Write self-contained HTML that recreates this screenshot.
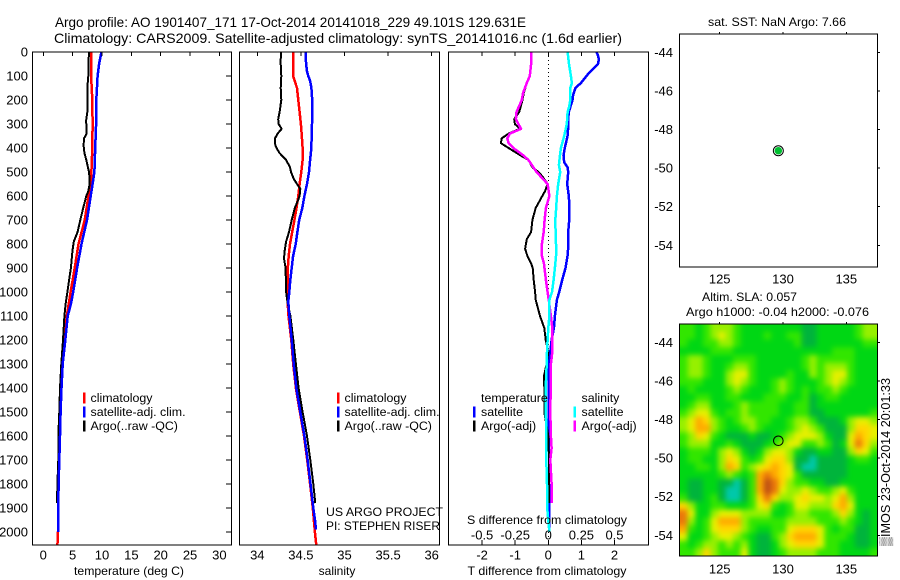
<!DOCTYPE html>
<html>
<head>
<meta charset="utf-8">
<title>Argo profile</title>
<style>
html,body{margin:0;padding:0;background:#fff;}
svg{display:block;}
text{font-family:"Liberation Sans",sans-serif;fill:#000;}
</style>
</head>
<body>
<svg id="chart" xmlns="http://www.w3.org/2000/svg" width="900" height="580" viewBox="0 0 900 580">
<defs>
<clipPath id="clip-t"><rect x="32.5" y="52" width="199" height="493"/></clipPath>
<clipPath id="clip-s"><rect x="239.5" y="52" width="200" height="493"/></clipPath>
<clipPath id="clip-d"><rect x="448.5" y="52" width="200" height="493"/></clipPath>
<clipPath id="clip-m"><rect x="680" y="324" width="197.5" height="232"/></clipPath>
<filter id="heat-blur" x="-10%" y="-10%" width="120%" height="120%" color-interpolation-filters="sRGB"><feGaussianBlur stdDeviation="2.6"/></filter>
</defs>
<g font-size="14">
<text x="55" y="27" textLength="471" lengthAdjust="spacingAndGlyphs">Argo profile: AO 1901407_171 17-Oct-2014 20141018_229 49.101S 129.631E</text>
<text x="54" y="43" textLength="568" lengthAdjust="spacingAndGlyphs">Climatology: CARS2009. Satellite-adjusted climatology: synTS_20141016.nc (1.6d earlier)</text>
</g>
<g id="plots"></g>
<g font-size="12">
<text x="129" y="575" text-anchor="middle" textLength="110" lengthAdjust="spacingAndGlyphs">temperature (deg C)</text>
<text x="337" y="575" text-anchor="middle">salinity</text>
<text x="547" y="575" text-anchor="middle" textLength="159" lengthAdjust="spacingAndGlyphs">T difference from climatology</text>
<text x="547" y="524" text-anchor="middle" textLength="160" lengthAdjust="spacingAndGlyphs">S difference from climatology</text>
<text x="326" y="516" textLength="117" lengthAdjust="spacingAndGlyphs">US ARGO PROJECT</text>
<text x="326" y="530" textLength="114" lengthAdjust="spacingAndGlyphs">PI: STEPHEN RISER</text>
<text x="777" y="26" text-anchor="middle" textLength="138" lengthAdjust="spacingAndGlyphs">sat. SST: NaN Argo: 7.66</text>
<text x="749.5" y="301" text-anchor="middle" textLength="95" lengthAdjust="spacingAndGlyphs">Altim. SLA: 0.057</text>
<text x="777.5" y="316" text-anchor="middle" textLength="183" lengthAdjust="spacingAndGlyphs">Argo h1000: -0.04 h2000: -0.076</text>
<text transform="translate(890,546) rotate(-90)" font-size="12.5" textLength="168" lengthAdjust="spacingAndGlyphs">▒IMOS 23-Oct-2014 20:01:33</text>
</g>
</svg>
<script>
// ---- temperature panel data (deg C vs depth) ----
const climTempDepth = [0,100,200,300,400,500,550,600,700,800,900,1000,1100,1200,1300,1400,1500,1600,1700,1800,1900,2000,2055];
const climTemp = [8.2,8.15,8.35,8.4,8.35,8.2,8.07,7.7,7.05,6.0,5.35,4.65,4.0,3.6,3.25,3.0,2.9,2.7,2.67,2.6,2.55,2.5,2.4];
const satTempDepth = [0,50,100,200,300,400,500,550,600,700,800,900,1000,1050,1100,1200,1300,1400,1500,1600,1700,1800,1900,2000];
const satTemp = [9.9,9.5,9.25,9.03,9.0,8.85,8.7,8.4,8.07,7.45,6.5,5.75,5.1,4.7,4.15,3.75,3.3,3.1,2.95,2.85,2.73,2.6,2.55,2.55];
const argoTempDepth = [0,50,100,150,200,250,290,310,340,360,390,420,450,480,500,550,580,600,650,700,750,790,830,900,950,1000,1050,1100,1200,1300,1400,1500,1600,1700,1800,1880];
const argoTemp = [7.8,7.67,7.67,7.5,7.55,7.5,7.27,7.4,7.4,6.93,6.87,7.0,7.33,7.6,7.8,7.9,7.67,7.33,6.8,6.3,5.85,5.2,4.95,4.7,4.4,4.1,3.8,3.6,3.35,3.07,2.85,2.73,2.55,2.55,2.4,2.33];

// ---- salinity panel data ----
const climSalDepth = [0,100,150,200,250,300,350,400,450,500,550,600,650,700,750,800,850,900,950,1000,1040,1100,1200,1300,1400,1500,1600,1700,1800,1900,2000,2055];
const climSal = [34.41,34.41,34.455,34.47,34.485,34.5,34.51,34.52,34.52,34.505,34.485,34.47,34.45,34.425,34.4,34.375,34.36,34.35,34.348,34.348,34.348,34.358,34.39,34.412,34.443,34.488,34.535,34.572,34.605,34.637,34.66,34.677];
const satSalDepth = [0,50,80,100,120,150,200,250,300,350,400,450,500,550,600,650,700,750,800,850,900,950,1000,1040,1100,1200,1300,1400,1500,1600,1700,1800,1900,1960,1990];
const satSal = [34.554,34.56,34.57,34.585,34.605,34.62,34.63,34.63,34.627,34.623,34.62,34.605,34.593,34.57,34.54,34.516,34.48,34.46,34.44,34.41,34.394,34.378,34.367,34.355,34.367,34.394,34.417,34.447,34.493,34.54,34.577,34.61,34.642,34.665,34.672];
const argoSalDepth = [0,30,50,100,150,200,250,280,300,320,340,360,390,420,450,480,500,530,560,570,600,620,650,700,750,790,830,860,900,1000,1040,1100,1200,1300,1400,1500,1600,1700,1800,1880];
const argoSal = [34.275,34.268,34.268,34.275,34.268,34.275,34.256,34.24,34.244,34.28,34.233,34.203,34.206,34.252,34.33,34.375,34.386,34.42,34.474,34.493,34.485,34.465,34.43,34.394,34.363,34.33,34.313,34.306,34.325,34.33,34.345,34.38,34.413,34.443,34.474,34.52,34.57,34.608,34.642,34.665];

// ---- difference panel data ----
const diffSatTempDepth = [0,10,30,50,90,130,150,180,200,250,280,300,350,400,430,460,480,500,550,600,650,700,750,800,850,900,950,1000,1033,1100,1150,1200,1250,1300,1400,1600,1800,2000];
const diffSatTemp = [1.45,1.49,1.53,1.5,1.21,0.98,0.82,0.75,0.73,0.62,0.6,0.61,0.58,0.5,0.46,0.48,0.58,0.6,0.57,0.62,0.64,0.63,0.6,0.61,0.58,0.52,0.42,0.33,0.26,0.2,0.17,0.1,0.06,0.02,0.01,0.02,0.02,0.02];
const diffArgoTempDepth = [0,50,100,130,170,200,250,280,300,320,340,360,380,400,430,450,480,500,520,550,580,600,650,700,750,780,820,850,880,900,950,1000,1033,1100,1150,1200,1250,1300,1350,1400,1500,1550,1600,1700,1800,1880];
const diffArgoTemp = [-0.52,-0.51,-0.56,-0.65,-0.74,-0.78,-0.88,-1.03,-1.01,-0.86,-1.2,-1.41,-1.43,-1.2,-0.85,-0.6,-0.48,-0.3,-0.17,-0.02,-0.1,-0.18,-0.38,-0.48,-0.52,-0.65,-0.7,-0.63,-0.52,-0.47,-0.44,-0.4,-0.38,-0.25,-0.12,-0.08,0,-0.05,-0.13,-0.12,-0.12,-0.06,0,0.02,0.02,0.02];
const diffSatSalDepth = [0,50,100,130,150,200,230,250,300,350,400,430,470,500,550,600,650,700,750,800,850,900,950,1000,1033,1100,1150,1200,1250,1300,1400,1500,1600,1700,1800,1900,2000];
const diffSatSal = [0.146,0.156,0.171,0.178,0.166,0.166,0.156,0.146,0.14,0.12,0.095,0.088,0.08,0.09,0.075,0.065,0.06,0.053,0.055,0.058,0.058,0.05,0.04,0.028,0.008,0.008,0,-0.005,-0.01,-0.012,-0.02,-0.018,-0.015,-0.015,-0.01,-0.008,0.008];
const diffArgoSalDepth = [0,50,100,130,170,200,250,280,300,320,340,360,380,400,430,450,480,500,550,600,650,700,750,800,850,880,950,1000,1040,1100,1150,1200,1250,1300,1400,1500,1600,1650,1700,1800,1880];
const diffArgoSal = [-0.13,-0.13,-0.14,-0.163,-0.19,-0.2,-0.24,-0.245,-0.226,-0.206,-0.29,-0.31,-0.3,-0.264,-0.19,-0.15,-0.113,-0.088,-0.005,0.008,-0.018,-0.028,-0.035,-0.048,-0.048,-0.033,-0.018,-0.005,0.005,0.02,0.03,0.03,0.03,0.02,0.018,0.015,0.02,0.025,0.015,0.025,0.025];

// ---- tick labels ----
const depthTicks = [0,100,200,300,400,500,600,700,800,900,1000,1100,1200,1300,1400,1500,1600,1700,1800,1900,2000];
const tempTicks = [0,5,10,15,20,25,30];
const salTicks = [34,34.5,35,35.5,36];
const tDiffTicks = [-2,-1,0,1,2];
const sDiffTicks = [-0.5,-0.25,0,0.25,0.5];
const lonTicks = [125,130,135];
const latTicks = [-44,-46,-48,-50,-52,-54];

// ---- float position and altimetry grid ----
const floatLon = [129.631];
const floatLat = [-49.101];
const slaColumns = 26;
const slaRows = [
"33234443222222221122222344","33234543222322331122222344","32233443222222231122222233",
"22223332222222222222333222","34432223332222223433333222","34432234432222223434443222",
"34432245532222322434553222","33322245432234322234543222","23222234322234323233432222",
"22332233222333223123322222","23442223433332233122222222","34553233433332233112222223",
"45764323443322344311124554","45774322343222345431114665","34653211121123455542115765",
"34442232111234553343125864","23332454212455421122114653","23322465323566411011112332",
"22332476345676510011112222","22222343237876531111112222","21122110137986433221122222",
"21122100137985445433453222","31123100136864456554574222","64223322235632355444675222",
"85224555444422344333464212","84235777433333444433343212","73235666432233566653233112",
"52234554321134677753332112","32344343421124566653322112","33464333521123444433322223"
];

// ---- colour ramp for the altimetry values ----
const slaRamp = ["#00c8aa","#00b43c","#00d714","#32e600","#96f000","#e6f000","#ffd700","#ffaa00","#eb780a","#be5014"];

const NS = "http://www.w3.org/2000/svg";
const root = document.getElementById("plots");

function linear(d0, d1, r0, r1) {
  return function (v) { return r0 + (v - d0) * (r1 - r0) / (d1 - d0); };
}
const yDepth = linear(0, 2000, 52, 532);
const xTemp = linear(0, 30, 43.3, 219.4);
const xSal = linear(34, 36, 257.3, 431.7);
const xTDiff = linear(0, 2, 548.3, 614.5);
const xSDiff = linear(0, 0.5, 548.3, 614.5);
const xLon = linear(125, 135, 719.7, 846.3);
const yLatTop = linear(-44, -54, 52.3, 245.3);
const yLatBot = linear(-44, -54, 342.3, 535.3);

function make(tag, parent, attrs) {
  const el = document.createElementNS(NS, tag);
  for (const k in attrs) el.setAttribute(k, attrs[k]);
  parent.appendChild(el);
  return el;
}
function label(parent, x, y, str, anchor, size) {
  const el = make("text", parent, { x: x, y: y, "text-anchor": anchor, "font-size": size });
  el.textContent = str;
  return el;
}
function tick(parent, x1, y1, x2, y2) {
  return make("line", parent, { x1: x1, y1: y1, x2: x2, y2: y2, stroke: "#000", "stroke-width": 1, "shape-rendering": "crispEdges" });
}
function frame(parent, x, y, w, h) {
  return make("rect", parent, { x: x, y: y, width: w, height: h, fill: "none", stroke: "#000", "stroke-width": 1.3, "shape-rendering": "crispEdges" });
}
function profile(parent, depths, values, xScale, color, width, clip) {
  const pts = depths.map(function (d, i) { return xScale(values[i]).toFixed(1) + "," + yDepth(d).toFixed(1); }).join(" ");
  return make("polyline", parent, { points: pts, fill: "none", stroke: color, "stroke-width": width, "stroke-linejoin": "round", "shape-rendering": "crispEdges", "clip-path": "url(#" + clip + ")" });
}
function legendMark(parent, x, y, color) {
  return make("rect", parent, { x: x, y: y, width: 2.5, height: 11, fill: color, "shape-rendering": "crispEdges" });
}

// ======== temperature panel ========
const tempPanel = make("g", root, {});


let s;
s = profile(tempPanel, climTempDepth, climTemp, xTemp, "#ff0000", 2.5, "clip-t");


s = profile(tempPanel, argoTempDepth, argoTemp, xTemp, "#000000", 2, "clip-t");


s = profile(tempPanel, satTempDepth, satTemp, xTemp, "#0000ff", 2.5, "clip-t");


s = frame(tempPanel, 32.5, 52, 199, 493);


depthTicks.forEach(function (d) {
  const t = tick(tempPanel, 226, yDepth(d), 231.5, yDepth(d));
  
  
  const l = label(tempPanel, 28, yDepth(d) + 4.5, String(d), "end", 13);
  
  
});
tempTicks.forEach(function (v) {
  const t = tick(tempPanel, xTemp(v), 52, xTemp(v), 56);
  
  
  const l = label(tempPanel, xTemp(v), 559.5, String(v), "middle", 13);
  
  
});

// ======== salinity panel ========
const salPanel = make("g", root, {});


s = profile(salPanel, climSalDepth, climSal, xSal, "#ff0000", 2.5, "clip-s");


s = profile(salPanel, argoSalDepth, argoSal, xSal, "#000000", 2, "clip-s");


s = profile(salPanel, satSalDepth, satSal, xSal, "#0000ff", 2.5, "clip-s");


s = frame(salPanel, 239.5, 52, 200, 493);


salTicks.forEach(function (v) {
  const t = tick(salPanel, xSal(v), 52, xSal(v), 56);
  
  
  const l = label(salPanel, xSal(v), 559.5, String(v), "middle", 13);
  
  
});

// ======== difference panel ========
const diffPanel = make("g", root, {});


s = make("line", diffPanel, { x1: xTDiff(0), y1: 52, x2: xTDiff(0), y2: 545, stroke: "#000", "stroke-width": 1, "stroke-dasharray": "1 3", "shape-rendering": "crispEdges" });


s = profile(diffPanel, diffSatTempDepth, diffSatTemp, xTDiff, "#0000ff", 2.5, "clip-d");


s = profile(diffPanel, diffArgoTempDepth, diffArgoTemp, xTDiff, "#000000", 2, "clip-d");


s = profile(diffPanel, diffArgoSalDepth, diffArgoSal, xSDiff, "#ff00ff", 2.5, "clip-d");


s = profile(diffPanel, diffSatSalDepth, diffSatSal, xSDiff, "#00ffff", 2.5, "clip-d");


s = frame(diffPanel, 448.5, 52, 200, 493);


tDiffTicks.forEach(function (v) {
  const t = tick(diffPanel, xTDiff(v), 52, xTDiff(v), 56);
  
  
  const l = label(diffPanel, xTDiff(v), 559.5, String(v), "middle", 13);
  
  
});
sDiffTicks.forEach(function (v) {
  const t = tick(diffPanel, xSDiff(v), 540, xSDiff(v), 545);
  
  
  const l = label(diffPanel, xSDiff(v), 539.5, String(v), "middle", 13);
  
  
});

// ======== legends ========
function legendRow(parent, markX, textX, y, color, str) {
  const g = make("g", parent, {});
  
  
  if (color) legendMark(g, markX, y - 5.5, color);
  label(g, textX, y + 4, str, "start", 12.4);
}
[[83, 90.5], [337, 344.5]].forEach(function (p) {
  legendRow(root, p[0], p[1], 398, "#ff0000", "climatology");
  legendRow(root, p[0], p[1], 412, "#0000ff", "satellite-adj. clim.");
  legendRow(root, p[0], p[1], 426, "#000000", "Argo(..raw -QC)");
});
legendRow(root, 473, 481, 398, null, "temperature");
legendRow(root, 473, 481, 412, "#0000ff", "satellite");
legendRow(root, 473, 481, 426, "#000000", "Argo(-adj)");
legendRow(root, 573.5, 581.5, 398, null, "salinity");
legendRow(root, 573.5, 581.5, 412, "#00ffff", "satellite");
legendRow(root, 573.5, 581.5, 426, "#ff00ff", "Argo(-adj)");

// ======== altimetry heatmap ========
const heatClip = make("g", root, { "clip-path": "url(#clip-m)" });


const heat = make("g", heatClip, { filter: "url(#heat-blur)" });


const cellW = 197.5 / slaColumns;
const cellH = 232 / slaRows.length;
slaRows.forEach(function (row, r) {
  for (let c = 0; c < slaColumns; c++) {
    const v = +row.charAt(c);
    // edge cells are extended outward so the smoothing does not fade at the frame
    const pad = 12;
    const x0 = 680 + c * cellW - (c === 0 ? pad : 0);
    const y0 = 324 + r * cellH - (r === 0 ? pad : 0);
    const w = cellW + 0.6 + (c === 0 || c === slaColumns - 1 ? pad : 0);
    const h = cellH + 0.6 + (r === 0 || r === slaRows.length - 1 ? pad : 0);
    const cell = make("rect", heat, { x: x0, y: y0, width: w, height: h, fill: slaRamp[v] });
    
    
  }
});

// ======== maps ========
function buildMap(name, top, bottom, yLat, labelY) {
  const g = make("g", root, {});
  
  
  const f = frame(g, 679.5, top, 198, bottom - top);
  
  
  lonTicks.forEach(function (v) {
    const t = tick(g, xLon(v), top - 2, xLon(v), top);
    
    
    const l = label(g, xLon(v), labelY, String(v), "middle", 13);
    
    
  });
  latTicks.forEach(function (v) {
    const t = tick(g, 877.5, yLat(v), 880, yLat(v));
    
    
    const l = label(g, 673, yLat(v) + 4.5, String(v), "end", 13);
    
    
  });
  return g;
}
const sstMap = buildMap("sst-map", 34, 267, yLatTop, 283.5);
const slaMap = buildMap("sla-map", 324, 556, yLatBot, 573.5);
let dot = make("circle", sstMap, { cx: xLon(floatLon[0]), cy: yLatTop(floatLat[0]), r: 5, fill: "#fff", stroke: "#000", "stroke-width": 1 });


dot = make("circle", sstMap, { cx: xLon(floatLon[0]), cy: yLatTop(floatLat[0]), r: 3.8, fill: "#00c030" });


dot = make("circle", slaMap, { cx: xLon(floatLon[0]), cy: yLatBot(floatLat[0]), r: 4.8, fill: "none", stroke: "#000", "stroke-width": 1 });


</script>
</body>
</html>
